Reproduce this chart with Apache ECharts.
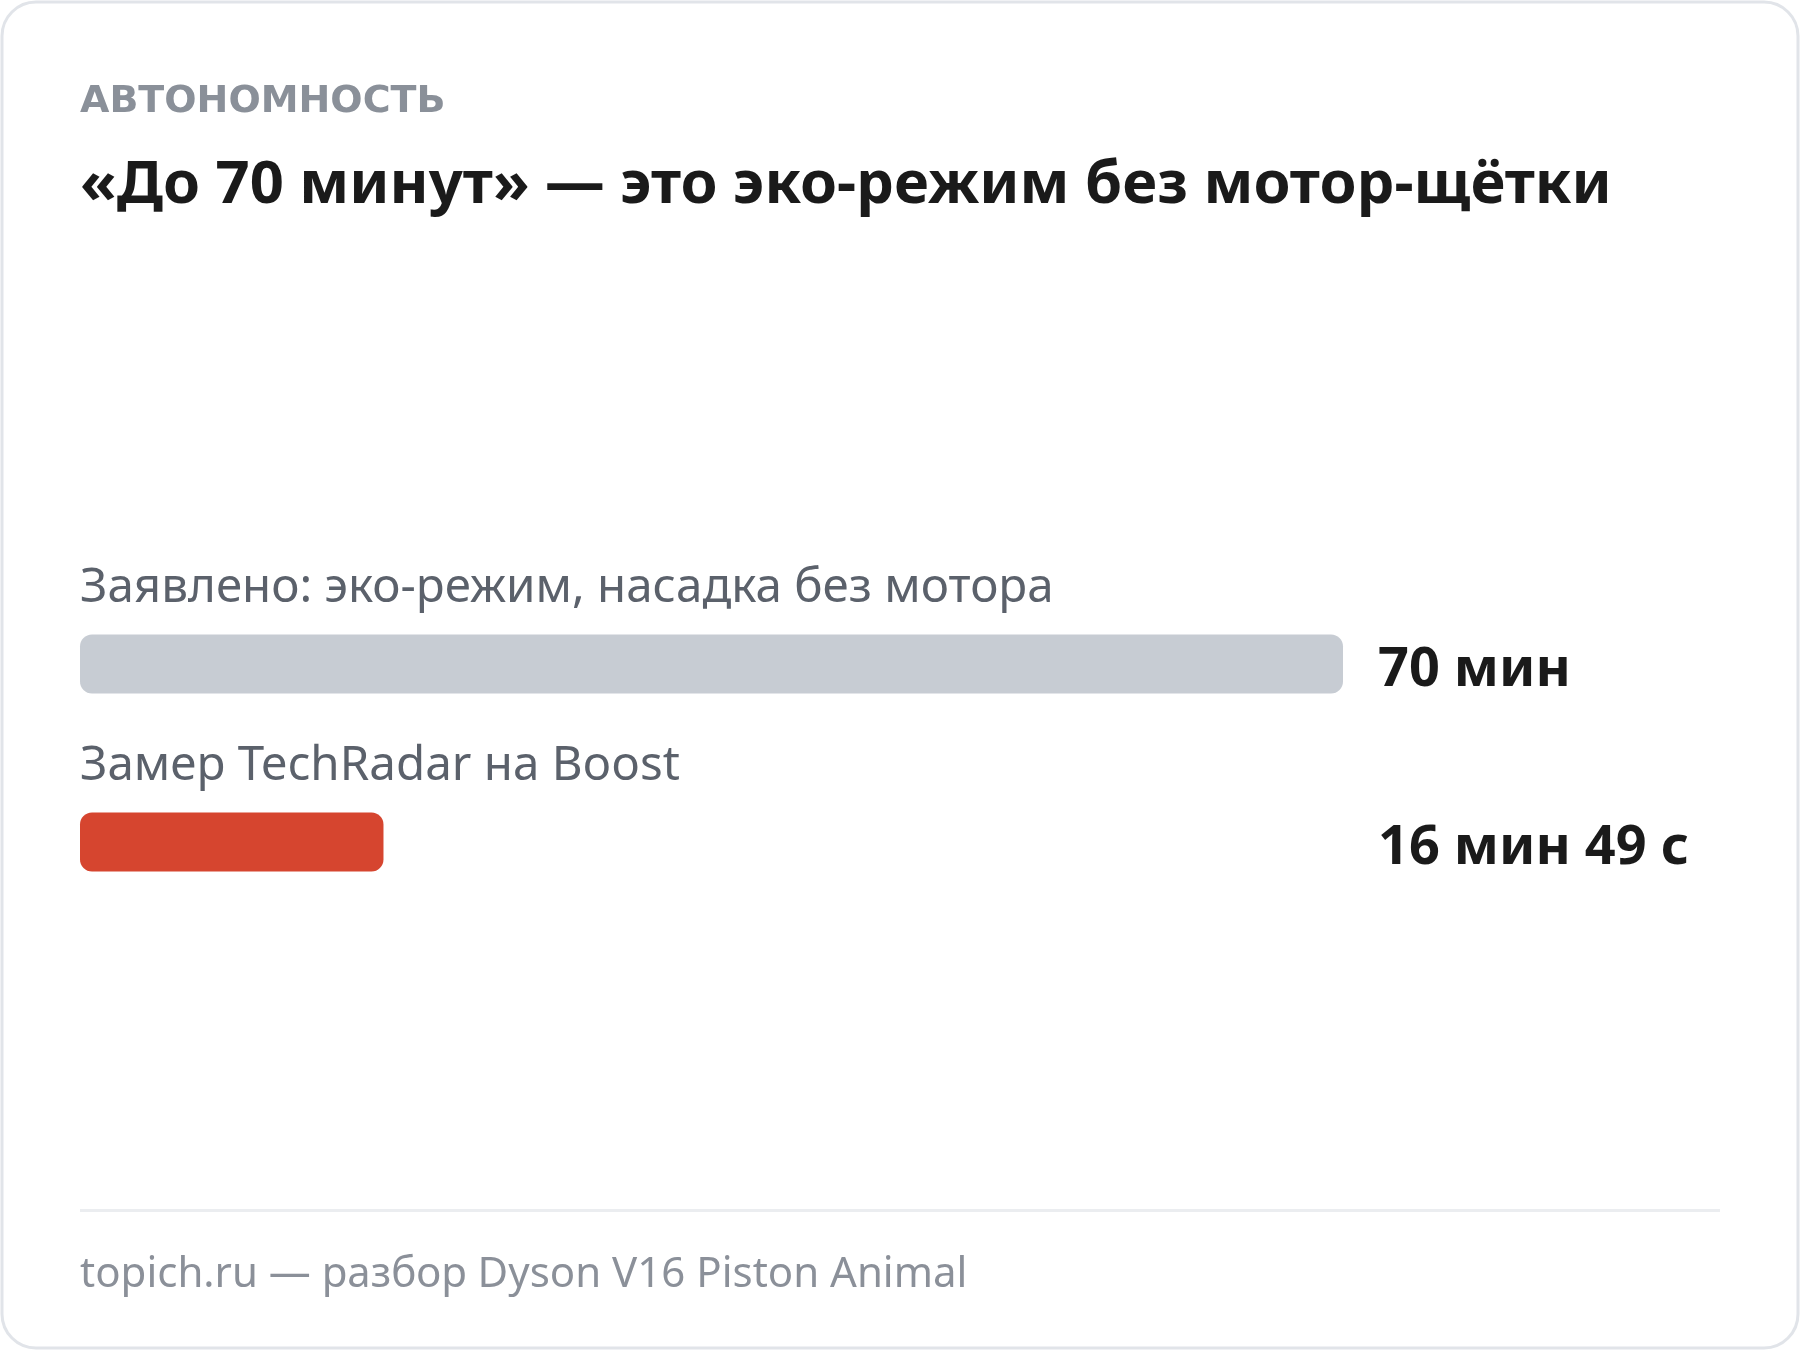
<!DOCTYPE html>
<html>
<head>
<meta charset="utf-8">
<script src="https://cdn.jsdelivr.net/npm/echarts@6/dist/echarts.min.js"></script>
<style>
  html, body { margin: 0; padding: 0; background: #ffffff; }
  #main { width: 1800px; height: 1350px; }
</style>
</head>
<body>
<div id="main"></div>
<script>
// данные
var categories = ['Заявлено: эко-режим, насадка без мотора', 'Замер TechRadar на Boost'];
var minutes = [70, 16.82];           // 16 мин 49 с
var valueLabels = ['70 мин', '16 мин 49 с'];
var barColors = ['#c7ccd3', '#d6452f'];

var FONT = '"Noto Sans", "Open Sans", sans-serif';

var myChart = echarts.init(document.getElementById('main'));

var option = {
    backgroundColor: '#ffffff',
    animation: false,
    grid: [
        { left: 80, width: 1263, top: 575, height: 356 },   // бары
        { left: 80, width: 1263, top: 582, height: 356 }    // подписи значений справа
    ],
    xAxis: [
        { type: 'value', min: 0, max: 70, show: false, gridIndex: 0 },
        { type: 'value', min: 0, max: 70, show: false, gridIndex: 1 }
    ],
    yAxis: [{
        type: 'category',
        gridIndex: 0,
        inverse: true,
        data: categories,
        show: false
    }, {
        type: 'category',
        gridIndex: 1,
        inverse: true,
        position: 'right',
        data: valueLabels,
        axisLine: { show: false },
        axisTick: { show: false },
        axisLabel: {
            margin: 35,
            align: 'left',
            fontFamily: FONT,
            fontSize: 54,
            fontWeight: 'bold',
            color: '#1a1a1a'
        }
    }],
    series: [{
        type: 'bar',
        xAxisIndex: 0,
        yAxisIndex: 0,
        barWidth: 59,
        data: minutes.map(function (v, i) {
            return { value: v, itemStyle: { color: barColors[i] } };
        }),
        itemStyle: { borderRadius: 12 },
        label: {
            show: true,
            position: [0, -22],
            verticalAlign: 'bottom',
            align: 'left',
            formatter: '{b}',
            fontFamily: FONT,
            fontSize: 47.5,
            color: '#5b616b'
        }
    }],
    graphic: [
        {   // карточка
            type: 'rect',
            shape: { x: 2, y: 2, width: 1796, height: 1346, r: 34 },
            style: { fill: '#ffffff', stroke: '#e1e4e9', lineWidth: 3 },
            z: -10
        },
        {
            type: 'text',
            left: 80, top: 83,
            style: {
                text: 'АВТОНОМНОСТЬ',
                font: 'bold 38px "DejaVu Sans", sans-serif',
                fill: '#8a9099'
            }
        },
        {
            type: 'text',
            left: 80, top: 156,
            style: {
                text: '«До 70 минут» — это эко-режим без мотор-щётки',
                font: 'bold 59.7px ' + FONT,
                fill: '#1a1a1a'
            }
        },
        {
            type: 'rect',
            shape: { x: 80, y: 1209, width: 1640, height: 3 },
            style: { fill: '#ebedf0' }
        },
        {
            type: 'text',
            left: 80, top: 1254,
            style: {
                text: 'topich.ru — разбор Dyson V16 Piston Animal',
                font: '42px ' + FONT,
                fill: '#8b9099'
            }
        }
    ]
};
myChart.setOption(option);
</script>
</body>
</html>
